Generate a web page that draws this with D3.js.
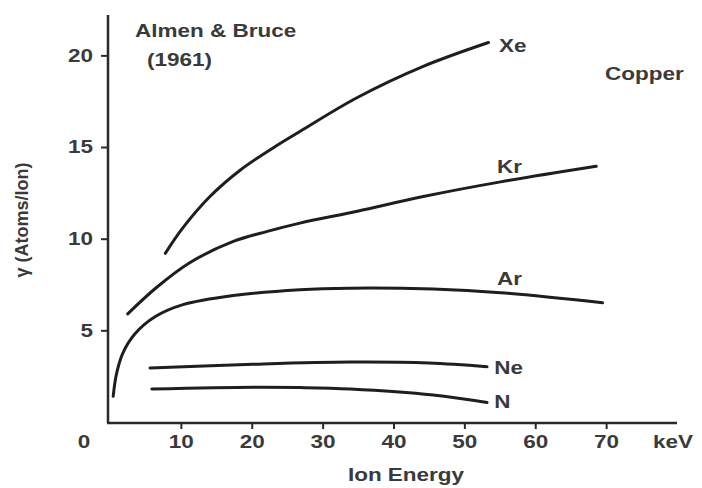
<!DOCTYPE html>
<html>
<head>
<meta charset="utf-8">
<script src="https://cdn.jsdelivr.net/npm/d3@7"></script>
<style>
  body { margin: 0; background: #fff; }
  text { font-family: "Liberation Sans", Arial, sans-serif; font-weight: bold; fill: #3a3a3a; }
</style>
</head>
<body>
<div id="chart"></div>
<script>
// Sputtering yield of copper vs ion energy
var energyTicks = [10, 20, 30, 40, 50, 60, 70];
var yieldTicks = [5, 10, 15, 20];

var xeData = [[7.8, 9.2], [10.3, 10.6], [14.1, 12.3], [18.4, 13.75], [23, 14.95], [26.8, 15.85], [34.9, 17.7], [44.2, 19.4], [53.4, 20.7]];
var krData = [[2.5, 5.9], [6.6, 7.35], [11.3, 8.7], [17.4, 9.85], [22.2, 10.4], [26.8, 10.85], [34.9, 11.5], [44.2, 12.3], [55.1, 13.1], [68.6, 13.95]];
var arData = [[0.45, 1.4], [0.9, 2.6], [1.8, 3.75], [3.5, 4.8], [6.4, 5.75], [10.3, 6.4], [17.4, 6.9], [26.8, 7.22], [33.9, 7.3], [45.6, 7.25], [55.1, 7.05], [69.5, 6.5]];
var neData = [[5.65, 2.95], [20.2, 3.15], [33.9, 3.27], [45, 3.22], [53.2, 3.02]];
var nData = [[5.9, 1.8], [20.2, 1.9], [26.8, 1.88], [33.9, 1.8], [45.6, 1.47], [53.2, 1.06]];

var seriesNames = ["Xe", "Kr", "Ar", "Ne", "N"];
var seriesData = [xeData, krData, arData, neData, nData];
// where each gas name sits, in keV / yield units
var labelAnchors = [[54.9, 20.2], [54.6, 13.6], [54.6, 7.47], [54.2, 2.62], [54.2, 0.76]];

var width = 702,
    height = 488;
var stretch = 1.25; // the scanned lettering is wide

var x = d3.scaleLinear().domain([0, 80]).range([110, 677]);
var y = d3.scaleLinear().domain([0, 22]).range([422, 18.7]);

var svg = d3.select("#chart")
    .append("svg")
    .attr("width", width)
    .attr("height", height);

// axes lines
svg.append("line")
    .attr("x1", 108).attr("x2", 108)
    .attr("y1", y(0) + 1).attr("y2", 15)
    .attr("stroke", "#2a2a2a").attr("stroke-width", 2.5);
svg.append("line")
    .attr("x1", 107).attr("x2", x(80))
    .attr("y1", y(0) + 1).attr("y2", y(0) + 1)
    .attr("stroke", "#2a2a2a").attr("stroke-width", 2.5);

var xAxis = svg.append("g")
    .attr("transform", "translate(0," + (y(0) + 1) + ")")
    .call(d3.axisBottom(x).tickValues(energyTicks).tickSize(6).tickPadding(6));

var yAxis = svg.append("g")
    .attr("transform", "translate(108,0)")
    .call(d3.axisLeft(y).tickValues(yieldTicks).tickSize(7).tickPadding(8));

[xAxis, yAxis].forEach(function (g) {
    g.select(".domain").remove();
    g.selectAll(".tick line").attr("stroke", "#2a2a2a").attr("stroke-width", 2);
    g.selectAll(".tick text")
        .attr("font-size", 18)
        .attr("font-family", null)
        .attr("fill", "#3a3a3a");
});
xAxis.selectAll(".tick text").attr("transform", "scale(" + stretch + ",1)");
yAxis.selectAll(".tick text")
    .attr("x", 0)
    .attr("transform", "translate(-15,0) scale(" + stretch + ",1)");

// free-standing text
function label(str, px, py, anchor) {
    svg.append("text")
        .attr("transform", "translate(" + px + "," + py + ") scale(" + stretch + ",1)")
        .attr("font-size", 18)
        .attr("text-anchor", anchor || "start")
        .text(str);
}
label("0", 84, 448, "middle");
label("keV", 673, 448, "middle");
label("Ion Energy", 406, 481, "middle");
label("Almen & Bruce", 135, 37);
label("(1961)", 147, 66);
label("Copper", 605, 80);

svg.append("text")
    .attr("transform", "translate(28,220) rotate(-90)")
    .attr("font-size", 18)
    .attr("text-anchor", "middle")
    .text("γ (Atoms/Ion)");

// curves
var line = d3.line()
    .x(function (d) { return x(d[0]); })
    .y(function (d) { return y(d[1]); })
    .curve(d3.curveCatmullRom.alpha(0.5));

svg.selectAll(".curve")
    .data(seriesData)
    .enter()
    .append("path")
    .attr("class", "curve")
    .attr("d", line)
    .attr("fill", "none")
    .attr("stroke", "#1e1e1e")
    .attr("stroke-width", 3)
    .attr("stroke-linecap", "round");

seriesNames.forEach(function (name, i) {
    label(name, x(labelAnchors[i][0]), y(labelAnchors[i][1]));
});
</script>
</body>
</html>
